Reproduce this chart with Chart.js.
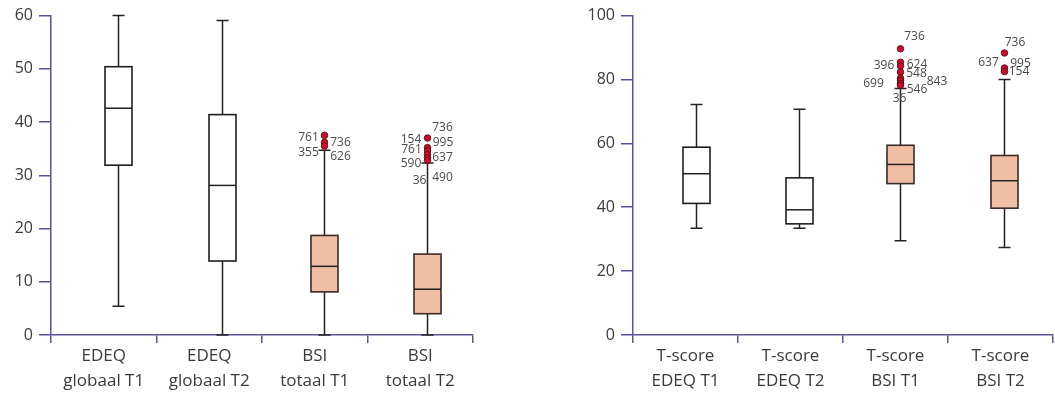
<!DOCTYPE html>
<html>
<head>
<meta charset="utf-8">
<script src="https://cdn.jsdelivr.net/npm/chart.js@4/dist/chart.umd.min.js"></script>
<style>
  html, body { margin: 0; padding: 0; background: #fff; }
  .panel { position: absolute; top: 0; height: 394px; }
  #left { left: 0; width: 520px; }
  #right { left: 560px; width: 495px; }
</style>
</head>
<body>
<div class="panel" id="left"><canvas id="chartLeft"></canvas></div>
<div class="panel" id="right"><canvas id="chartRight"></canvas></div>
<script>
// left panel: raw scores
const rawLabels = [['EDEQ', 'globaal T1'], ['EDEQ', 'globaal T2'], ['BSI', 'totaal T1'], ['BSI', 'totaal T2']];
const rawMin = [5.4, 0, 0, 0];
const rawQ1 = [31.9, 13.9, 8.1, 4.0];
const rawMedian = [42.6, 28.1, 12.9, 8.6];
const rawQ3 = [50.4, 41.4, 18.7, 15.2];
const rawMax = [60, 59.1, 34.7, 32.3];
const rawOutliers = [[], [], [37.5, 36.2, 35.5], [37.0, 35.2, 34.6, 33.9, 33.3, 32.8]];
const rawCaseIds = [[], [], ['761', '736', '355', '626'], ['736', '154', '995', '761', '637', '590', '36', '490']];
const rawCaseAt = [[], [], [37.1, 36.2, 34.3, 33.6], [39.0, 36.75, 36.2, 34.9, 33.4, 32.25, 29.1, 29.6]];

// right panel: T-scores
const tLabels = [['T-score', 'EDEQ T1'], ['T-score', 'EDEQ T2'], ['T-score', 'BSI T1'], ['T-score', 'BSI T2']];
const tMin = [33.4, 33.4, 29.5, 27.4];
const tQ1 = [41.2, 34.8, 47.4, 39.7];
const tMedian = [50.5, 39.2, 53.4, 48.3];
const tQ3 = [58.8, 49.2, 59.4, 56.2];
const tMax = [72.2, 70.7, 77.2, 80];
const tOutliers = [[], [], [89.6, 85.4, 84.2, 82.3, 80.4, 79.7, 78.8, 78.2], [88.3, 83.6, 82.5]];
const tCaseIds = [[], [], ['736', '396', '624', '548', '843', '699', '546', '36'], ['736', '637', '995', '154']];
const tCaseAt = [[], [], [93.4, 84.4, 84.7, 81.9, 79.4, 78.75, 76.9, 74.1], [91.6, 85.3, 85.0, 82.5]];

// styling
const axisColor = '#5c5299';
const textColor = '#3a3a3a';
const boxFills = ['#ffffff', '#ffffff', '#efbea5', '#efbea5'];
const boxStrokes = ['#1e1e1e', '#1e1e1e', '#3b2b26', '#3b2b26'];
const rawShift = [14.5, 13, 9.5, 7];
const tShift = [10.5, 8, 4.5, 3];
const rawCaseDx = [[], [], [-16, 16, -16, 16], [15, -16.5, 15.5, -16, 15, -16.5, -8, 15]];
const tCaseDx = [[], [], [14, -16.5, 16.5, 16, 36.5, -27, 16.5, -1], [10.5, -16, 16, 14.5]];

const boxPlugin = {
  id: 'boxes',
  afterDatasetsDraw(chart, args, o) {
    const ctx = chart.ctx;
    const x = chart.scales.x, y = chart.scales.y;
    const half = 13.5, cap = 6;
    ctx.save();
    o.q1.forEach((q1, i) => {
      const cx = Math.round(x.getPixelForValue(i) + o.shift[i]) + 0.5;
      const yMin = y.getPixelForValue(o.min[i]);
      const yMax = y.getPixelForValue(o.max[i]);
      const yQ1 = y.getPixelForValue(q1);
      const yQ3 = y.getPixelForValue(o.q3[i]);
      const yMed = y.getPixelForValue(o.median[i]);
      ctx.lineWidth = 1.5;
      ctx.strokeStyle = '#222';
      ctx.beginPath();
      ctx.moveTo(cx, yMax); ctx.lineTo(cx, yQ3);
      ctx.moveTo(cx, yQ1); ctx.lineTo(cx, yMin);
      ctx.moveTo(cx - cap, yMax); ctx.lineTo(cx + cap, yMax);
      ctx.moveTo(cx - cap, yMin); ctx.lineTo(cx + cap, yMin);
      ctx.stroke();

      ctx.fillStyle = o.fills[i];
      ctx.fillRect(cx - half, yQ3, half * 2, yQ1 - yQ3);
      ctx.strokeStyle = o.strokes[i];
      ctx.lineWidth = 1.6;
      ctx.strokeRect(cx - half, yQ3, half * 2, yQ1 - yQ3);
      ctx.strokeStyle = '#222';
      ctx.lineWidth = 1.5;
      ctx.beginPath();
      ctx.moveTo(cx - half, yMed); ctx.lineTo(cx + half, yMed);
      ctx.stroke();

      o.outliers[i].forEach(v => {
        ctx.beginPath();
        ctx.arc(cx, y.getPixelForValue(v), 3.3, 0, Math.PI * 2);
        ctx.fillStyle = '#c8102e';
        ctx.fill();
        ctx.lineWidth = 0.8;
        ctx.strokeStyle = '#4a0a10';
        ctx.stroke();
      });

      ctx.font = '12px "Open Sans"';
      ctx.fillStyle = '#4a4a4a';
      ctx.textAlign = 'center';
      ctx.textBaseline = 'middle';
      o.ids[i].forEach((id, k) => {
        ctx.fillText(id, cx + o.dx[i][k], y.getPixelForValue(o.at[i][k]));
      });
    });
    ctx.restore();
  }
};

function makeChart(canvasId, labels, stats, yMax, step, pad, yWidth) {
  return new Chart(document.getElementById(canvasId), {
    type: 'bar',
    data: {
      labels: labels,
      datasets: [{ data: [], backgroundColor: 'transparent' }]
    },
    plugins: [boxPlugin],
    options: {
      responsive: true,
      maintainAspectRatio: false,
      animation: false,
      layout: { padding: pad },
      plugins: {
        legend: { display: false },
        tooltip: { enabled: false },
        boxes: stats
      },
      scales: {
        x: {
          offset: true,
          afterFit: s => { s.height = 59; },
          grid: { offset: true, drawOnChartArea: false, tickLength: 8, color: axisColor, lineWidth: 1.5 },
          border: { display: true, color: axisColor, width: 1.5 },
          ticks: {
            padding: 0,
            color: textColor,
            maxRotation: 0,
            font: { family: '"Open Sans"', size: 17, lineHeight: 1.5 }
          }
        },
        y: {
          min: 0,
          max: yMax,
          afterFit: s => { s.width = yWidth; },
          grid: { drawOnChartArea: false, tickLength: 12, color: axisColor, lineWidth: 1.5 },
          border: { display: true, color: axisColor, width: 1.5 },
          ticks: {
            stepSize: step,
            padding: 6,
            color: textColor,
            font: { family: '"Open Sans"', size: 16 }
          }
        }
      }
    }
  });
}

makeChart('chartLeft', rawLabels, {
  min: rawMin, q1: rawQ1, median: rawMedian, q3: rawQ3, max: rawMax,
  outliers: rawOutliers, ids: rawCaseIds, at: rawCaseAt,
  dx: rawCaseDx, shift: rawShift, fills: boxFills, strokes: boxStrokes
}, 60, 10, { top: 15, right: 47, left: 0, bottom: 0 }, 51);

makeChart('chartRight', tLabels, {
  min: tMin, q1: tQ1, median: tMedian, q3: tQ3, max: tMax,
  outliers: tOutliers, ids: tCaseIds, at: tCaseAt,
  dx: tCaseDx, shift: tShift, fills: boxFills, strokes: boxStrokes
}, 100, 20, { top: 15, right: 2, left: 0, bottom: 0 }, 73);
</script>
</body>
</html>
